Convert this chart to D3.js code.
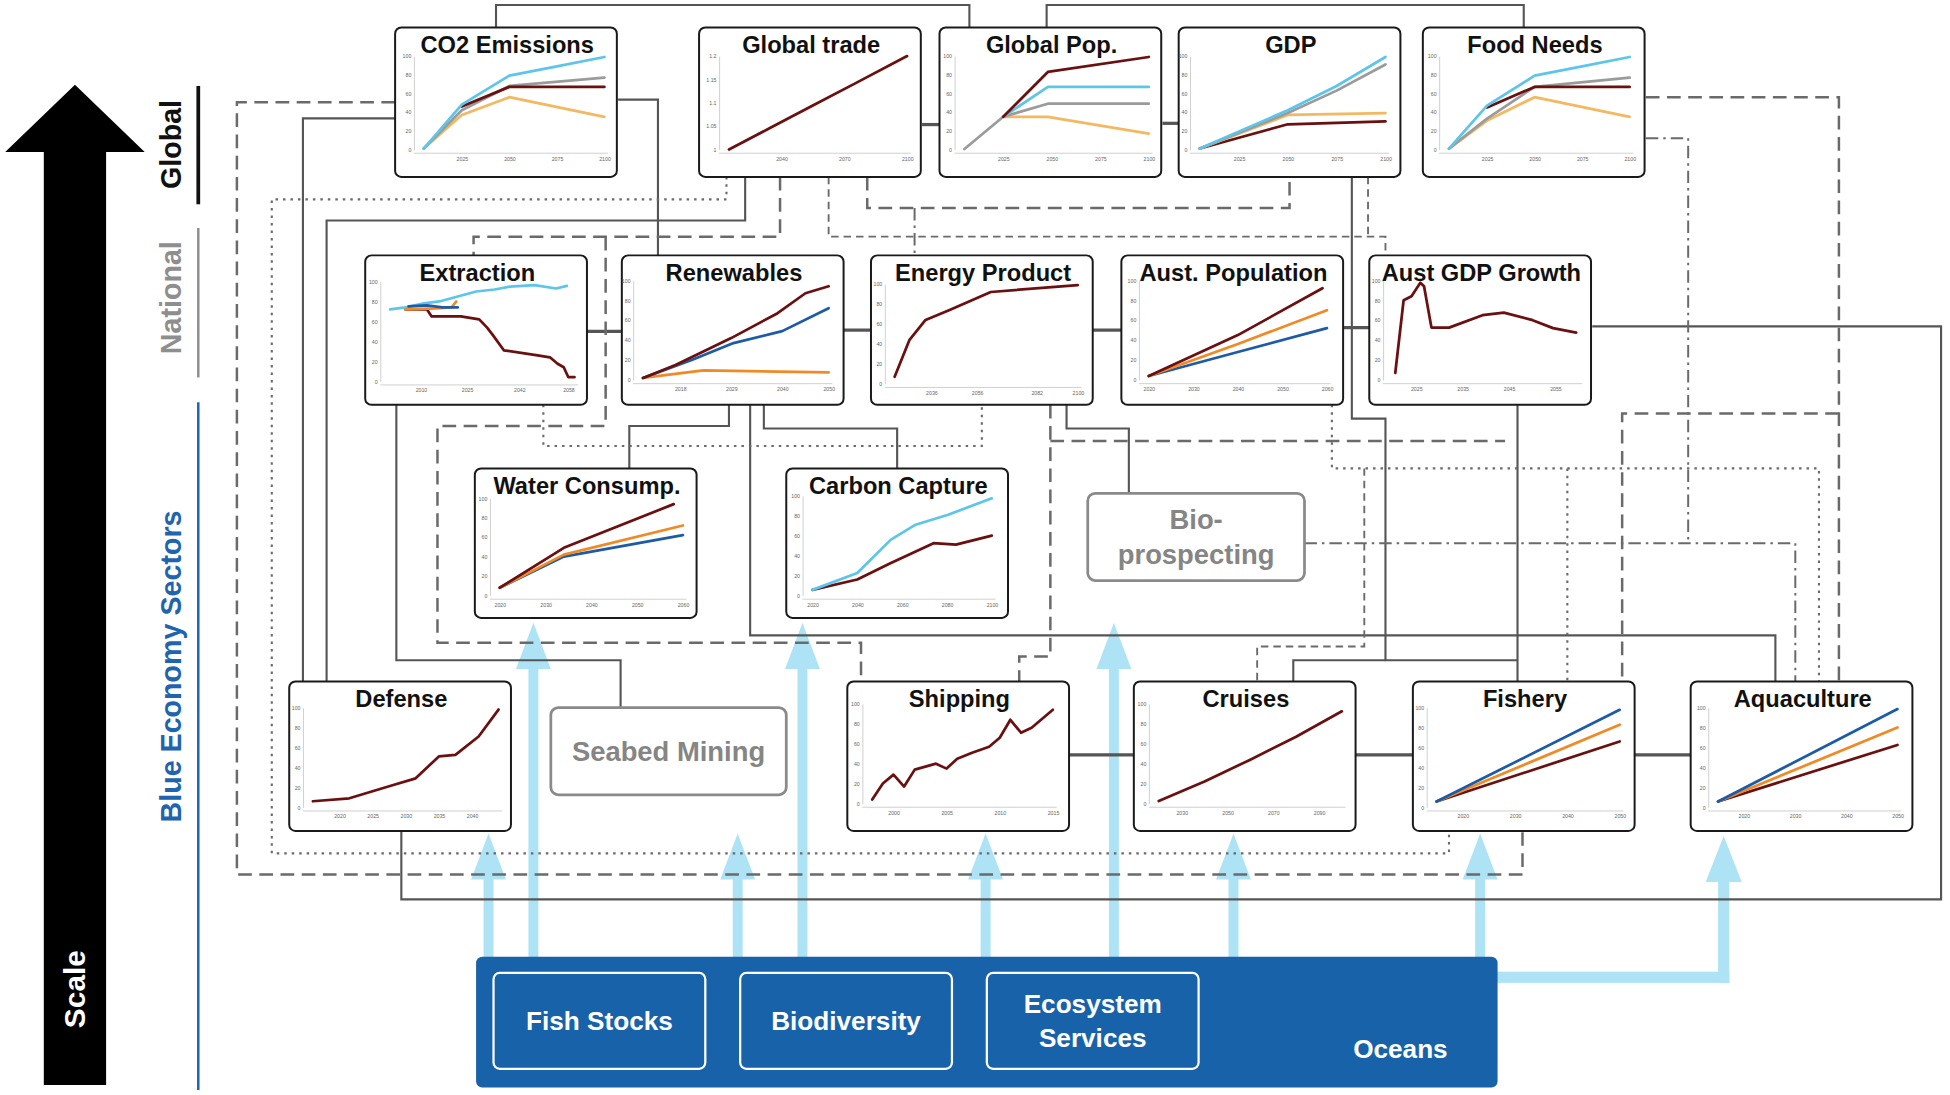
<!DOCTYPE html>
<html>
<head>
<meta charset="utf-8">
<script src="https://cdn.jsdelivr.net/npm/d3@7"></script>
<style>
body { margin: 0; background: #fff; }
svg { display: block; font-family: "Liberation Sans", Arial, sans-serif; }
</style>
</head>
<body>
<svg id="chart"></svg>
<script>
// ---------- series: [year, value] ----------
var co2Cyan   = [[2005,1],[2025,48],[2050,79],[2075,89],[2100,99]];
var co2Grey   = [[2005,1],[2025,42],[2050,68],[2100,77]];
var co2Red    = [[2025,46],[2050,67],[2100,67]];
var co2Orange = [[2005,1],[2025,37],[2050,56],[2100,35]];

var tradeRed = [[2015,1.0],[2035,1.047],[2055,1.094],[2075,1.141],[2100,1.2]];

var popGrey   = [[2005,0.5],[2025,35],[2048,49],[2100,49]];
var popRed    = [[2025,35],[2048,83],[2100,99]];
var popCyan   = [[2025,35],[2048,67],[2100,67]];
var popOrange = [[2025,35],[2048,35],[2100,17]];

var gdpCyan   = [[2005,1],[2050,42],[2075,68],[2100,99]];
var gdpGrey   = [[2005,1],[2050,39],[2075,63],[2100,91]];
var gdpOrange = [[2005,1],[2050,37],[2100,39]];
var gdpRed    = [[2005,1],[2050,27],[2100,30]];

var foodCyan   = [[2005,1],[2025,47],[2050,79],[2075,89],[2100,99]];
var foodGrey   = [[2005,1],[2025,33],[2050,67],[2100,77]];
var foodRed    = [[2025,45],[2050,67],[2100,67]];
var foodOrange = [[2005,1],[2025,31],[2050,56],[2100,35]];

var extrCyan   = [[2000,72],[2005,74],[2011,78],[2016,80],[2022,85],[2028,90],[2034,92],[2039,95],[2047,96.5],[2054,93],[2057.5,95.6]];
var extrRed    = [[2005,72],[2012,72],[2013.5,65],[2023,65],[2029,62],[2031.5,54],[2033.5,46],[2037,31],[2048,26],[2052,24],[2054.5,17.5],[2056.5,14],[2058,4],[2060,4]];
var extrOrange = [[2005,72],[2015,73],[2020,74],[2021.5,80]];
var extrBlue   = [[2006,75],[2012,76],[2017,74],[2022,74]];

var renRed    = [[2010,2],[2017,15],[2029,42],[2039,67],[2045,87],[2050,94]];
var renBlue   = [[2010,2],[2020.5,20],[2029.5,37],[2040,49],[2050,72]];
var renOrange = [[2010,2],[2023,9.5],[2050,7.5]];

var energyRed = [[2020,7],[2026.5,44],[2033.5,64],[2044,74],[2062,92],[2100,99]];

var apRed    = [[2020,4],[2040,45],[2059,92]];
var apOrange = [[2020,4],[2040,36],[2060,70]];
var apBlue   = [[2020,4],[2040,28],[2060,52]];

var agdpRed = [[2020.5,7],[2022.3,80],[2024,84],[2025.9,97.5],[2026.7,94],[2028.3,52.5],[2032.1,52.5],[2039.3,65],[2043.9,67.5],[2050.1,60],[2054.5,52],[2059.5,47.5]];

var waterRed    = [[2020,8],[2034,49],[2058,94]];
var waterOrange = [[2020,8],[2034,42],[2060,72]];
var waterBlue   = [[2020,8],[2034,40],[2060,62]];

var ccCyan = [[2020,5.6],[2040,22.5],[2055,56],[2066,71],[2080.5,81],[2100,97.5]];
var ccRed  = [[2020,5.6],[2040,16],[2055,32.5],[2074,52.5],[2084,51],[2100,60]];

var defRed = [[2016,6],[2021.5,9],[2027.5,21],[2031.5,29],[2035,51],[2037.5,52.5],[2041,71],[2044,98]];

var shipRed = [[1998,4],[1999,20],[2000,29],[2001,17],[2002,34],[2004,40],[2005,35],[2006,45],[2007.4,51],[2009,57],[2010,66],[2011,84],[2012,71],[2013,76],[2015,94]];

var cruiseRed = [[2020,2.5],[2040,22],[2060,44],[2080,67],[2100,92.5]];

var fishBlue   = [[2015,5.75],[2050,97.75]];
var fishOrange = [[2015,5.75],[2050,82.75]];
var fishRed    = [[2015,5.75],[2050,66]];

var aquaBlue   = [[2015,5.75],[2050,98.5]];
var aquaOrange = [[2015,5.75],[2050,80]];
var aquaRed    = [[2015,5.75],[2050,62.5]];

// ---------- styles ----------
var RED = "#6a1010", CYAN = "#5ec5ea", GREY = "#9b9b9b",
    ORANGE_L = "#f3b862", ORANGE = "#f08a26", BLUE = "#1d5ba6",
    OCEAN = "#1862a9", ARROW = "#aee3f6";

// ---------- panel layout ----------
var boxW = 178, boxH = 120;

var charts = [
  { title: "CO2 Emissions", x: 317, y: 22, xd: [2005, 2100], yd: [0, 100], px: [23, 168], py: [23, 98], xt: [2025, 2050, 2075, 2100],
    series: [[co2Orange, ORANGE_L], [co2Grey, GREY], [co2Red, RED], [co2Cyan, CYAN]] },
  { title: "Global trade", x: 561, y: 22, xd: [2015, 2100], yd: [1, 1.2], px: [24, 167], py: [23, 98], xt: [2040, 2070, 2100],
    series: [[tradeRed, RED]] },
  { title: "Global Pop.", x: 754, y: 22, xd: [2005, 2100], yd: [0, 100], px: [20, 168], py: [23, 98], xt: [2025, 2050, 2075, 2100],
    series: [[popOrange, ORANGE_L], [popGrey, GREY], [popCyan, CYAN], [popRed, RED]] },
  { title: "GDP", x: 946, y: 22, xd: [2005, 2100], yd: [0, 100], px: [17, 166], py: [23, 98], xt: [2025, 2050, 2075, 2100],
    series: [[gdpRed, RED], [gdpOrange, ORANGE_L], [gdpGrey, GREY], [gdpCyan, CYAN]] },
  { title: "Food Needs", x: 1142, y: 22, xd: [2005, 2100], yd: [0, 100], px: [21, 166], py: [23, 98], xt: [2025, 2050, 2075, 2100],
    series: [[foodOrange, ORANGE_L], [foodGrey, GREY], [foodRed, RED], [foodCyan, CYAN]] },

  { title: "Extraction", x: 293, y: 205, xd: [2000, 2060], yd: [0, 100], px: [20, 168], py: [21, 101], xt: [2010, 2025, 2042, 2058],
    series: [[extrRed, RED], [extrCyan, CYAN], [extrOrange, ORANGE], [extrBlue, BLUE]] },
  { title: "Renewables", x: 499, y: 205, xd: [2010, 2050], yd: [0, 100], px: [17, 166], py: [20, 100], xt: [2018, 2029, 2040, 2050],
    series: [[renOrange, ORANGE], [renBlue, BLUE], [renRed, RED]] },
  { title: "Energy Product", x: 699, y: 205, xd: [2020, 2100], yd: [0, 100], px: [19, 166], py: [23, 103], xt: [2036, 2056, 2082, 2100],
    series: [[energyRed, RED]] },
  { title: "Aust. Population", x: 900, y: 205, xd: [2020, 2060], yd: [0, 100], px: [22, 165], py: [20, 100], xt: [2020, 2030, 2040, 2050, 2060],
    series: [[apBlue, BLUE], [apOrange, ORANGE], [apRed, RED]] },
  { title: "Aust GDP Growth", x: 1099, y: 205, xd: [2020, 2060], yd: [0, 100], px: [19, 168], py: [20, 100], xt: [2025, 2035, 2045, 2055],
    series: [[agdpRed, RED]] },

  { title: "Water Consump.", x: 381, y: 376, xd: [2020, 2060], yd: [0, 100], px: [20, 167], py: [24, 102], xt: [2020, 2030, 2040, 2050, 2060],
    series: [[waterBlue, BLUE], [waterOrange, ORANGE], [waterRed, RED]] },
  { title: "Carbon Capture", x: 631, y: 376, xd: [2020, 2100], yd: [0, 100], px: [21, 165], py: [22, 102], xt: [2020, 2040, 2060, 2080, 2100],
    series: [[ccRed, RED], [ccCyan, CYAN]] },

  { title: "Defense", x: 232, y: 547, xd: [2016, 2044], yd: [0, 100], px: [19, 168], py: [21, 101], xt: [2020, 2025, 2030, 2035, 2040],
    series: [[defRed, RED]] },
  { title: "Shipping", x: 680, y: 547, xd: [1998, 2015], yd: [0, 100], px: [20, 165], py: [18, 98], xt: [2000, 2005, 2010, 2015],
    series: [[shipRed, RED]] },
  { title: "Cruises", x: 910, y: 547, xd: [2020, 2100], yd: [0, 100], px: [20, 167], py: [18, 98], xt: [2030, 2050, 2070, 2090],
    series: [[cruiseRed, RED]] },
  { title: "Fishery", x: 1134, y: 547, xd: [2015, 2050], yd: [0, 100], px: [19, 166], py: [21, 101], xt: [2020, 2030, 2040, 2050],
    series: [[fishRed, RED], [fishOrange, ORANGE], [fishBlue, BLUE]] },
  { title: "Aquaculture", x: 1357, y: 547, xd: [2015, 2050], yd: [0, 100], px: [22, 166], py: [21, 101], xt: [2020, 2030, 2040, 2050],
    series: [[aquaRed, RED], [aquaOrange, ORANGE], [aquaBlue, BLUE]] }
];

// grey text-only sectors
var plainBoxes = [
  { lines: ["Bio-", "prospecting"], x: 873, y: 396, w: 174, h: 70 },
  { lines: ["Seabed Mining"], x: 442, y: 568, w: 189, h: 70 }
];

// connector routes
var linkStyles = {
  solid:   { stroke: "#555", width: 1.7, dash: null },
  thick:   { stroke: "#555", width: 2.6, dash: null },
  dash:    { stroke: "#6a6a6a", width: 2, dash: "11,6" },
  sdash:   { stroke: "#6a6a6a", width: 1.5, dash: "6,4" },
  dot:     { stroke: "#6a6a6a", width: 1.7, dash: "2,4" },
  dashdot: { stroke: "#6a6a6a", width: 1.6, dash: "10,4,2,4" }
};

var links = [
  ["solid", [[398,22],[398,4],[778,4],[778,22]]],
  ["solid", [[840,22],[840,4],[1223,4],[1223,22]]],
  ["solid", [[496,80],[528,80],[528,205]]],
  ["thick", [[740,100],[754,100]]],
  ["thick", [[933,99],[946,99]]],
  ["solid", [[317,95],[243,95],[243,547]]],
  ["solid", [[598,142],[598,177],[262,177],[262,547]]],
  ["thick", [[471,266],[499,266]]],
  ["thick", [[677,265],[699,265]]],
  ["thick", [[877,265],[900,265]]],
  ["thick", [[1077,263],[1099,263]]],
  ["solid", [[1085,142],[1085,336],[1112,336],[1112,530],[1218,530]]],
  ["solid", [[1038,547],[1038,530],[1112,530]]],
  ["solid", [[1218,325],[1218,547]]],
  ["solid", [[602,325],[602,510],[1425,510],[1425,547]]],
  ["solid", [[585,325],[585,342],[505,342],[505,376]]],
  ["solid", [[613,325],[613,344],[720,344],[720,376]]],
  ["solid", [[856,325],[856,344],[906,344],[906,396]]],
  ["thick", [[858,606],[910,606]]],
  ["thick", [[1088,606],[1134,606]]],
  ["thick", [[1312,606],[1357,606]]],
  ["solid", [[1278,262],[1558,262],[1558,722],[322,722],[322,667]]],
  ["solid", [[318,325],[318,530],[498,530],[498,568]]],

  ["dash", [[317,82],[190,82],[190,702],[1222,702],[1222,667]]],
  ["dash", [[626,142],[626,190],[380,190],[380,205]]],
  ["dash", [[486,190],[486,342],[351,342],[351,516],[691,516],[691,547]]],
  ["dash", [[696,142],[696,167],[1035,167],[1035,142]]],
  ["dashdot", [[734,167],[734,205]]],
  ["dash", [[1321,78],[1476,78],[1476,547]]],
  ["dash", [[1476,332],[1302,332],[1302,547]]],
  ["dash", [[843,325],[843,527],[818,527],[818,547]]],
  ["dash", [[843,354],[1208,354]]],

  ["sdash", [[665,142],[665,190],[1112,190],[1112,205]]],
  ["sdash", [[1098,142],[1098,190]]],
  ["sdash", [[1095,376],[1095,519],[1009,519],[1009,547]]],

  ["dot", [[583,142],[583,160],[218,160],[218,685],[1163,685],[1163,667]]],
  ["dot", [[436,325],[436,358],[788,358],[788,325]]],
  ["dot", [[1069,325],[1069,376],[1460,376],[1460,547]]],
  ["dot", [[1258,376],[1258,547]]],

  ["dashdot", [[1047,436],[1441,436],[1441,547]]],
  ["dashdot", [[1321,111],[1355,111],[1355,436]]]
];

// light-blue supply arrows from the ocean: [x, tip y]
var arrows = [[392,669],[428,500],[592,669],[644,500],[791,669],[894,500],[990,669],[1188,669]];

var oceanItems = [
  { lines: ["Fish Stocks"], x: 396 },
  { lines: ["Biodiversity"], x: 594 },
  { lines: ["Ecosystem", "Services"], x: 792 }
];

var scaleLevels = [
  { label: "Global",               color: "#111",    cy: 116, y0: 69,  y1: 164, lw: 3 },
  { label: "National",             color: "#8e8e8e", cy: 239, y0: 183, y1: 303, lw: 2 },
  { label: "Blue Economy Sectors", color: "#1f64ae", cy: 535, y0: 323, y1: 875, lw: 2 }
];

// ---------- drawing ----------
var svg = d3.select("#chart")
    .attr("width", 1950)
    .attr("height", 1095)
    .attr("viewBox", "0 0 1565 879");

// left scale arrow
svg.append("path")
    .attr("d", "M60,68 L116,122 L85,122 L85,871 L35,871 L35,122 L4,122 Z")
    .attr("fill", "#000");
svg.append("text")
    .attr("transform", "translate(68,794) rotate(-90)")
    .attr("text-anchor", "middle")
    .attr("font-size", 24).attr("font-weight", "bold")
    .attr("fill", "#fff")
    .text("Scale");

scaleLevels.forEach(function (s) {
    svg.append("text")
        .attr("transform", "translate(145," + s.cy + ") rotate(-90)")
        .attr("text-anchor", "middle")
        .attr("font-size", 23).attr("font-weight", "bold")
        .attr("fill", s.color)
        .text(s.label);
    svg.append("line")
        .attr("x1", 159).attr("x2", 159)
        .attr("y1", s.y0).attr("y2", s.y1)
        .attr("stroke", s.color).attr("stroke-width", s.lw);
});

// ocean arrows (under the connectors)
var gArrows = svg.append("g").attr("fill", ARROW);
arrows.forEach(function (a) {
    var x = a[0], tip = a[1];
    gArrows.append("rect")
        .attr("x", x - 4).attr("y", tip + 36)
        .attr("width", 8).attr("height", 770 - tip - 36);
    gArrows.append("path")
        .attr("d", "M" + (x - 14) + "," + (tip + 37) + " L" + x + "," + tip + " L" + (x + 14) + "," + (tip + 37) + " Z");
});
// elbow arrow to aquaculture
gArrows.append("rect").attr("x", 1200).attr("y", 780).attr("width", 188).attr("height", 9);
gArrows.append("rect").attr("x", 1379).attr("y", 706).attr("width", 9).attr("height", 83);
gArrows.append("path").attr("d", "M1369,708 L1383.5,671 L1398,708 Z");

// connectors
var line = d3.line();
var gLinks = svg.append("g").attr("fill", "none");
links.forEach(function (l) {
    var st = linkStyles[l[0]];
    gLinks.append("path")
        .attr("d", line(l[1]))
        .attr("stroke", st.stroke)
        .attr("stroke-width", st.width)
        .attr("stroke-dasharray", st.dash);
});

// small chart panels
charts.forEach(function (c) {
    var g = svg.append("g").attr("transform", "translate(" + c.x + "," + c.y + ")");

    g.append("rect")
        .attr("width", boxW).attr("height", boxH)
        .attr("rx", 5)
        .attr("fill", "#fff")
        .attr("stroke", "#1a1a1a").attr("stroke-width", 1.6);

    var x = d3.scaleLinear().domain(c.xd).range(c.px);
    var y = d3.scaleLinear().domain(c.yd).range([c.py[1], c.py[0]]);

    var xAxis = g.append("g")
        .attr("transform", "translate(0," + (c.py[1] + 3) + ")")
        .call(d3.axisBottom(x).tickValues(c.xt).tickSize(0).tickPadding(3).tickFormat(d3.format("d")));
    xAxis.select(".domain").attr("stroke", "#d0d0d0").attr("stroke-width", 0.8)
        .attr("d", "M" + (c.px[0] - 8) + ",0H" + (c.px[1] + 3));

    var yAxis = g.append("g")
        .attr("transform", "translate(" + (c.px[0] - 8) + ",0)")
        .call(d3.axisLeft(y).ticks(4).tickSize(0).tickPadding(2)
            .tickFormat(c.yd[1] < 10 ? d3.format(".2~f") : d3.format("d")));
    yAxis.select(".domain").attr("stroke", "#d0d0d0").attr("stroke-width", 0.8);

    g.selectAll(".tick text")
        .attr("font-size", 4.2)
        .attr("fill", "#666")
        .attr("font-family", "Liberation Sans, Arial, sans-serif");

    var ln = d3.line().x(function (d) { return x(d[0]); }).y(function (d) { return y(d[1]); });
    c.series.forEach(function (s) {
        g.append("path")
            .attr("d", ln(s[0]))
            .attr("fill", "none")
            .attr("stroke", s[1])
            .attr("stroke-width", 2.2)
            .attr("stroke-linejoin", "round")
            .attr("stroke-linecap", "round");
    });

    var t = g.append("text")
        .attr("x", boxW / 2 + 1).attr("y", 20.5)
        .attr("text-anchor", "middle")
        .attr("font-size", 19).attr("font-weight", "bold")
        .attr("fill", "#111")
        .text(c.title);
    if (t.node().getComputedTextLength() > boxW - 8) {
        t.attr("textLength", boxW - 8).attr("lengthAdjust", "spacingAndGlyphs");
    }
});

// grey sector boxes without charts
plainBoxes.forEach(function (b) {
    var g = svg.append("g").attr("transform", "translate(" + b.x + "," + b.y + ")");
    g.append("rect")
        .attr("width", b.w).attr("height", b.h).attr("rx", 6)
        .attr("fill", "#fff")
        .attr("stroke", "#8a8a8a").attr("stroke-width", 2.2);
    var lh = 28, top = b.h / 2 - (b.lines.length - 1) * lh / 2;
    b.lines.forEach(function (s, i) {
        g.append("text")
            .attr("x", b.w / 2).attr("y", top + i * lh + 8)
            .attr("text-anchor", "middle")
            .attr("font-size", 22).attr("font-weight", "bold")
            .attr("fill", "#858585")
            .text(s);
    });
});

// oceans block
svg.append("rect")
    .attr("x", 382).attr("y", 768).attr("width", 820).attr("height", 105).attr("rx", 5)
    .attr("fill", OCEAN);
oceanItems.forEach(function (o) {
    svg.append("rect")
        .attr("x", o.x).attr("y", 781).attr("width", 170).attr("height", 77).attr("rx", 5)
        .attr("fill", "none").attr("stroke", "#fff").attr("stroke-width", 1.8);
    var lh = 27, top = 819.5 - (o.lines.length - 1) * lh / 2;
    o.lines.forEach(function (s, i) {
        svg.append("text")
            .attr("x", o.x + 85).attr("y", top + i * lh + 7.5)
            .attr("text-anchor", "middle")
            .attr("font-size", 21).attr("font-weight", "bold")
            .attr("fill", "#fff")
            .text(s);
    });
});
svg.append("text")
    .attr("x", 1124).attr("y", 849)
    .attr("text-anchor", "middle")
    .attr("font-size", 21).attr("font-weight", "bold")
    .attr("fill", "#fff")
    .text("Oceans");
</script>
</body>
</html>
